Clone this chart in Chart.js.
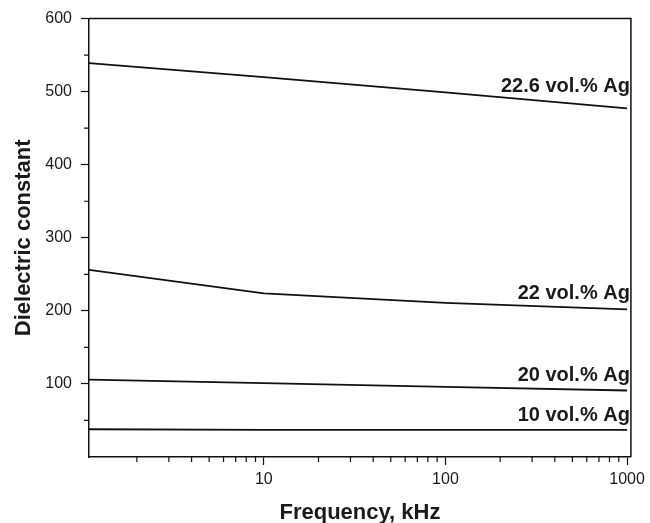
<!DOCTYPE html>
<html>
<head>
<meta charset="utf-8">
<script src="https://cdn.jsdelivr.net/npm/chart.js@4.4.0/dist/chart.umd.min.js"></script>
<style>
  body { margin: 0; background: #fff; }
  canvas { display: block; }
</style>
</head>
<body>
<canvas id="chart" width="650" height="523"></canvas>
<script>
// frequency in kHz, dielectric constant
const freqs = [1.09, 10, 100, 1000];
const ag226 = [539, 520, 499, 477];
const ag22 = [256, 224, 211, 202];
const ag20 = [106, 101, 96, 91];
const ag10 = [38, 37, 37, 37];

const seriesNames = ["22.6 vol.% Ag", "22 vol.% Ag", "20 vol.% Ag", "10 vol.% Ag"];
// y value (data units) where each curve label sits, right aligned at the frame
const labelAt = [507, 224, 112, 57];

const xLabels = [10, 100, 1000];
const yLabels = [100, 200, 300, 400, 500, 600];

const ink = "#111";

// log tick positions 2..9, 10..90, ...
const xTickVals = [];
[1, 10, 100].forEach((d) => {
  for (let m = 1; m <= 9; m++) {
    if (m * d >= 2) xTickVals.push(m * d);
  }
});
xTickVals.push(1000);

const allSeries = [ag226, ag22, ag20, ag10];

const framePlugin = {
  id: "frame",
  afterDraw(chart) {
    const { ctx, chartArea: a, scales } = chart;
    ctx.save();
    ctx.strokeStyle = ink;
    ctx.lineWidth = 1.5;
    ctx.beginPath();
    ctx.moveTo(a.left, a.top);
    ctx.lineTo(a.right, a.top);
    ctx.lineTo(a.right, a.bottom);
    ctx.stroke();

    // minor ticks
    ctx.lineWidth = 1.2;
    ctx.beginPath();
    xTickVals.forEach((v) => {
      if (xLabels.includes(v)) return;
      const px = scales.x.getPixelForValue(v);
      ctx.moveTo(px, a.bottom);
      ctx.lineTo(px, a.bottom + 5);
    });
    for (let v = 50; v < 600; v += 100) {
      const py = scales.y.getPixelForValue(v);
      ctx.moveTo(a.left, py);
      ctx.lineTo(a.left - 5, py);
    }
    ctx.stroke();

    // curve labels
    ctx.fillStyle = "#1a1a1a";
    ctx.font = "bold 20px 'Liberation Sans', Arial, sans-serif";
    ctx.textAlign = "right";
    ctx.textBaseline = "middle";
    seriesNames.forEach((name, i) => {
      ctx.fillText(name, a.right - 1, scales.y.getPixelForValue(labelAt[i]));
    });
    ctx.restore();
  },
};

new Chart(document.getElementById("chart"), {
  type: "line",
  data: {
    datasets: allSeries.map((vals, i) => ({
      label: seriesNames[i],
      data: freqs.map((f, j) => ({ x: f, y: vals[j] })),
      borderColor: ink,
      borderWidth: 1.8,
      pointRadius: 0,
      tension: 0,
      fill: false,
    })),
  },
  options: {
    responsive: false,
    devicePixelRatio: 1,
    animation: false,
    layout: { padding: { top: 17, right: 18, left: 0, bottom: 0 } },
    plugins: { legend: { display: false }, tooltip: { enabled: false } },
    scales: {
      x: {
        type: "logarithmic",
        min: 1.09,
        max: 1050,
        afterBuildTicks: (scale) => {
          scale.ticks = xTickVals.map((v) => ({ value: v }));
        },
        afterFit: (scale) => {
          scale.height = 66;
        },
        ticks: {
          autoSkip: false,
          maxRotation: 0,
          padding: 5,
          color: "#1a1a1a",
          font: { family: "'Liberation Sans', Arial, sans-serif", size: 16 },
          callback: (v) => (xLabels.includes(v) ? String(v) : ""),
        },
        grid: {
          drawOnChartArea: false,
          drawTicks: true,
          tickLength: 8,
          tickWidth: 1.2,
          tickColor: (c) => (c.tick && xLabels.includes(c.tick.value) ? ink : "transparent"),
        },
        border: { display: true, color: ink, width: 1.5 },
        title: {
          display: true,
          text: "Frequency, kHz",
          color: "#1a1a1a",
          font: { family: "'Liberation Sans', Arial, sans-serif", size: 22, weight: "bold", lineHeight: 0.9 },
          padding: { top: 0, bottom: 0 },
        },
      },
      y: {
        min: 0,
        max: 600,
        afterBuildTicks: (scale) => {
          scale.ticks = yLabels.map((v) => ({ value: v }));
        },
        afterFit: (scale) => {
          scale.width = 89;
        },
        ticks: {
          autoSkip: false,
          padding: 9,
          color: "#1a1a1a",
          font: { family: "'Liberation Sans', Arial, sans-serif", size: 16 },
          callback: (v) => String(v),
        },
        grid: {
          drawOnChartArea: false,
          drawTicks: true,
          tickLength: 8,
          tickWidth: 1.2,
          tickColor: ink,
        },
        border: { display: true, color: ink, width: 1.5 },
        title: {
          display: true,
          text: "Dielectric constant",
          color: "#1a1a1a",
          font: { family: "'Liberation Sans', Arial, sans-serif", size: 22, weight: "bold" },
          padding: { top: 11, bottom: 0 },
        },
      },
    },
  },
  plugins: [framePlugin],
});
</script>
</body>
</html>
